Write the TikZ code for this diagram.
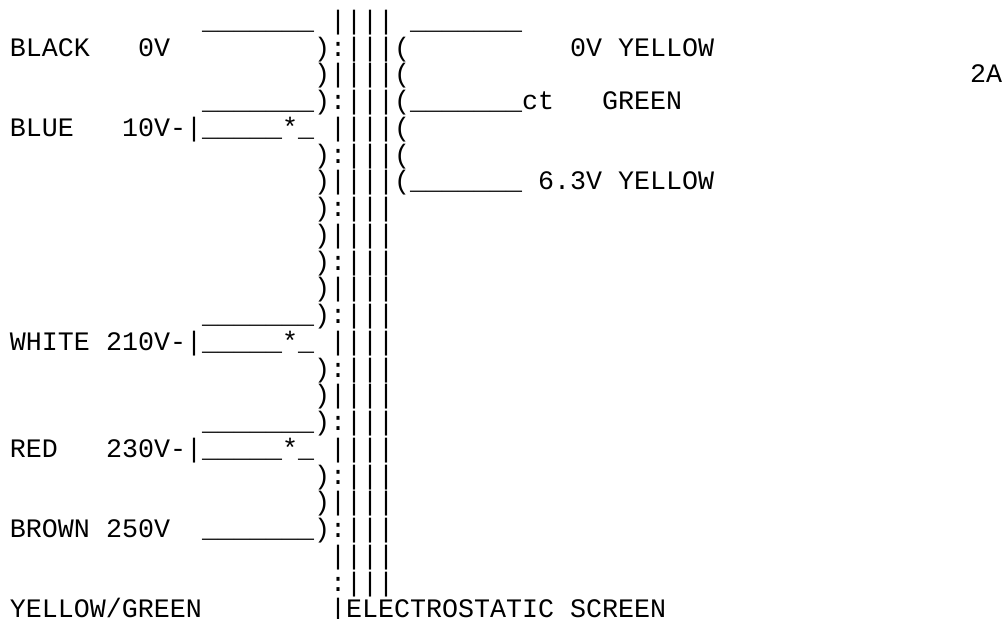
\documentclass[tikz,border=0pt]{standalone}
\usepackage{fontspec}
\newfontfamily\asciifont{Liberation Mono}
\newcommand{\wire}{\_\_\_\_\_\_\_}
\newcommand{\tapwire}{\_\_\_\_\_*\_}
\tikzset{
  asc/.style={inner sep=0pt, outer sep=0pt, anchor=base west,
    font=\asciifont\fontsize{13.333pt}{13.375pt}\selectfont}
}

\begin{document}
\begin{tikzpicture}
\useasboundingbox (0,0) rectangle (503pt,-309pt);

\begin{scope}[x=8pt, y=-13.375pt, shift={(5pt,-14.65pt)}]
% core and screen
\foreach \l in {0,...,21}
  \node[asc] (core\l) at (21,\l) {|||};
\foreach \l in {0,2,...,22}
  \node[asc] (scr\l) at (20,\l) {|};
\foreach \l in {1,3,...,21}
  \node[asc] (scr\l) at (20,\l) {:};

% primary winding
\foreach \l in {1,2,3,5,6,7,8,9,10,11,13,14,15,17,18,19}
  \node[asc] (pri\l) at (19,\l) {)};
\foreach \l in {0,3,11,15,19}
  \node[asc] (pw\l) at (12,\l) {\wire};
\foreach \l/\v/\c in {4/10V-|/7, 12/210V-|/6, 16/230V-|/6} {
  \node[asc] (tap\l) at (12,\l) {\tapwire};
  \node[asc] (volt\l) at (\c,\l) {\v};
}

% secondary winding
\foreach \l in {1,...,6}
  \node[asc] (sec\l) at (24,\l) {(};
\foreach \l in {0,3,6}
  \node[asc] (sw\l) at (25,\l) {\wire};

% labels
\foreach \l/\c/\t in {1/0/BLACK, 1/8/0V, 4/0/BLUE, 12/0/WHITE, 16/0/RED,
    19/0/BROWN, 19/6/250V, 22/0/{YELLOW/GREEN}, 22/21/ELECTROSTATIC,
    22/35/SCREEN, 1/35/0V, 1/38/YELLOW, 2/60/2A, 3/32/ct, 3/37/GREEN,
    6/33/6.3V, 6/38/YELLOW}
  \node[asc] (lbl\l-\c) at (\c,\l) {\t};
\end{scope}
\end{tikzpicture}
\end{document}
